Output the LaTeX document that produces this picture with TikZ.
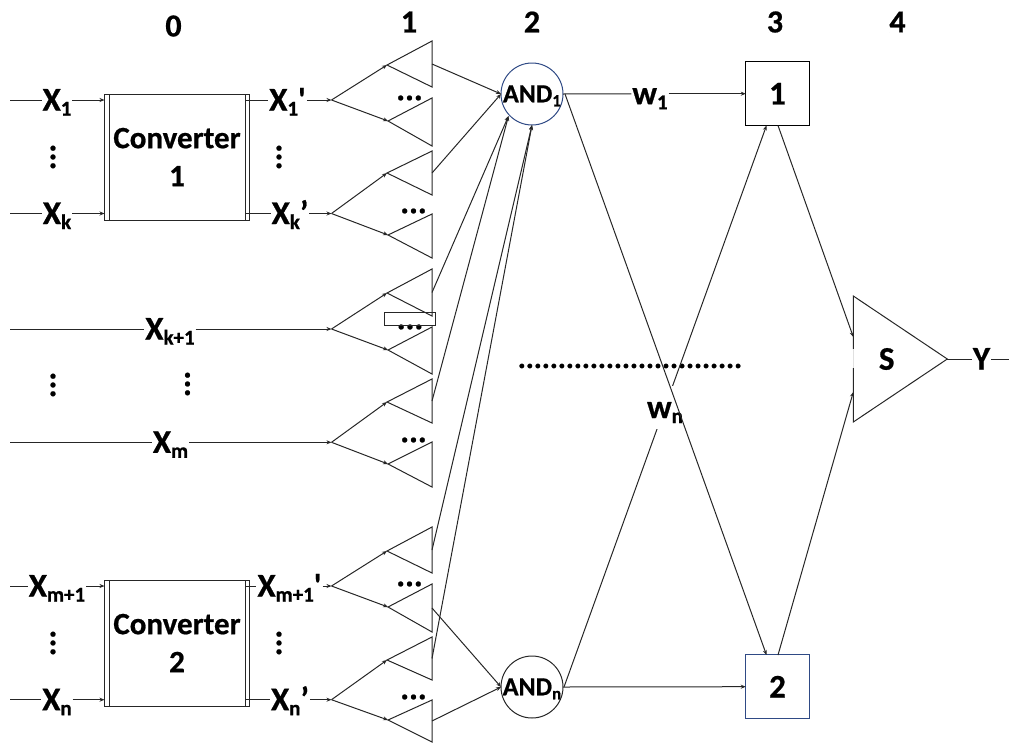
\documentclass[tikz,border=0pt]{standalone}
\usepackage{fontspec}
\usetikzlibrary{arrows.meta}
\newfontfamily\cb{Carlito}[BoldFeatures={FakeBold=0.7}]
\definecolor{ringblue}{HTML}{2F4A85}
\newcommand\subs[1]{\raisebox{-5pt}{\fontsize{21}{21}\selectfont #1}}
\newcommand\subsm[1]{\raisebox{-4pt}{\fontsize{17}{17}\selectfont #1}}
\tikzset{
  ln/.style={line width=1pt,black!85},
  arr/.style={ln,-{Stealth[length=5pt,width=4pt]}},
  txt/.style={font=\cb\bfseries\fontsize{31}{38}\selectfont,inner sep=0pt,outer sep=0pt,black},
  lab/.style={txt,font=\cb\bfseries\fontsize{33}{38}\selectfont,inner xsep=1pt,inner ysep=0pt,text height=21pt,text depth=0pt},
  head/.style={txt,font=\cb\bfseries\fontsize{32}{34}\selectfont},
  dotsv/.style={txt,font=\cb\bfseries\fontsize{33}{33}\selectfont,rotate=90},
  dotsh/.style={txt,font=\cb\bfseries\fontsize{33}{33}\selectfont},
  conv/.style={txt,draw,ln,text=black,minimum width=145pt,minimum height=126pt,align=center},
  gate/.style={circle,draw,line width=1pt,minimum size=62pt,inner sep=0pt,outer sep=0pt},
  gatetxt/.style={txt,font=\cb\bfseries\fontsize{26}{26}\selectfont,text height=16.5pt,text depth=0pt},
  outbox/.style={txt,font=\cb\bfseries\fontsize{33}{33}\selectfont,draw,line width=1pt,minimum width=63.5pt,minimum height=63.5pt}
}
\newcommand\fanunit[8]{%
  \coordinate (#1a) at (331.5,#2);
  \coordinate (#1ut) at (387,#3);
  \coordinate (#1uh) at (432,#4);
  \coordinate (#1ub) at (432,#5);
  \coordinate (#1um) at (432,{(#4+#5)/2});
  \coordinate (#1lt) at (388,#6);
  \coordinate (#1lh) at (432,#7);
  \coordinate (#1lb) at (432,#8);
  \coordinate (#1lm) at (432,{(#7+#8)/2});
  \draw[arr] (#1a) -- (#1ut);
  \draw[arr] (#1a) -- (#1lt);
  \draw[ln] (#1ut) -- (#1uh) -- (#1ub) -- cycle;
  \draw[ln] (#1lt) -- (#1lh) -- (#1lb) -- cycle;
}
\begin{document}
\begin{tikzpicture}[x=1pt,y=-1pt]
\useasboundingbox (0,0) rectangle (1009,742);
% column headers
\node[head] (h0) at (173.5,26) {0};
\node[head] (h1) at (409,22) {1};
\node[head] (h2) at (532,22) {2};
\node[head] (h3) at (775,22) {3};
\node[head] (h4) at (897.5,22) {4};
% converters
\node[conv] (conv1) at (177,157) {Converter\\1};
\node[conv] (conv2) at (177,643) {Converter\\2};
\foreach \c in {conv1,conv2}{
  \draw[ln] ([xshift=4.5pt]\c.north west) -- ([xshift=4.5pt]\c.south west);
  \draw[ln] ([xshift=-4.5pt]\c.north east) -- ([xshift=-4.5pt]\c.south east);
}
% fan-out units
\fanunit{f1}{100}{65}{41}{87}{121}{98}{146}
\fanunit{f2}{213.5}{173}{151}{195}{235}{214}{258}
\fanunit{f3}{329}{293}{269}{316}{350}{327}{374}
\fanunit{f4}{442.3}{402}{379}{423}{464}{442}{487}
\fanunit{f5}{586}{551}{527}{573}{607}{584}{632}
\fanunit{f6}{699.7}{660}{637}{680}{720}{700}{742}
% input free ends
\coordinate (i1) at (10,100);
\coordinate (i2) at (10,213.5);
\coordinate (i3) at (10,329);
\coordinate (i4) at (10,442.3);
\coordinate (i5) at (10,586);
\coordinate (i6) at (10,699.7);
% labels
\node[lab] (x1) at (57,100) {X\subs{1}};
\node[lab] (xk) at (57,213.5) {X\subs{k}};
\node[lab] (x1p) at (287.5,100) {X\subs{1}'};
\node[lab] (xkp) at (290,213.5) {X\subs{k}’};
\node[lab] (xk1) at (170,329) {X\subs{k+1}};
\node[lab] (xm) at (170.5,442.3) {X\subs{m}};
\node[lab] (xm1) at (57,586) {X\subs{m+1}};
\node[lab] (xn) at (57,699.7) {X\subs{n}};
\node[lab] (xm1p) at (289.5,586) {X\subs{m+1}'};
\node[lab] (xnp) at (290,699.7) {X\subs{n}’};
% input connectors
\draw[ln] (i1) -- (x1);
\draw[ln] (i2) -- (xk);
\draw[ln] (i3) -- (xk1);
\draw[ln] (i4) -- (xm);
\draw[ln] (i5) -- (xm1);
\draw[ln] (i6) -- (xn);
\draw[arr] (x1) -- (x1 -| conv1.west);
\draw[arr] (xk) -- (xk -| conv1.west);
\draw[arr] (xm1) -- (xm1 -| conv2.west);
\draw[arr] (xn) -- (xn -| conv2.west);
\draw[ln] ([xshift=-4.5pt]conv1.east |- x1p) -- (x1p);
\draw[ln] ([xshift=-4.5pt]conv1.east |- xkp) -- (xkp);
\draw[ln] ([xshift=-4.5pt]conv2.east |- xm1p) -- (xm1p);
\draw[ln] ([xshift=-4.5pt]conv2.east |- xnp) -- (xnp);
\draw[arr] (x1p) -- (f1a);
\draw[arr] (xkp) -- (f2a);
\draw[arr] (xk1) -- (f3a);
\draw[arr] (xm) -- (f4a);
\draw[arr] (xm1p) -- (f5a);
\draw[arr] (xnp) -- (f6a);
% vertical dots
\node[dotsv] (d1) at (53,157) {...};
\node[dotsv] (d2) at (279,157) {...};
\node[dotsv] (d3) at (53,385) {...};
\node[dotsv] (d4) at (187.5,384) {...};
\node[dotsv] (d5) at (53,643) {...};
\node[dotsv] (d6) at (279,643) {...};
% horizontal dots
\node[dotsh] (e1) at (409.5,98) {...};
\node[dotsh] (e2) at (413.5,211) {...};
\node[dotsh] (e3) at (410,327) {...};
\node[dotsh] (e4) at (413.5,440) {...};
\node[dotsh] (e5) at (409.5,584) {...};
\node[dotsh] (e6) at (413.5,697) {...};
% small rectangle
\node[draw,ln,minimum width=50.5pt,minimum height=13pt,inner sep=0pt,outer sep=0pt] (rect) at (410.2,319.2) {};
% AND gates
\node[gate,draw=ringblue] (and1) at (532,94) {};
\node[gate,draw=black!85] (andn) at (532,687) {};
\node[gatetxt] (and1t) at (532,94) {AND\subsm{1}};
\node[gatetxt] (andnt) at (532,687) {AND\subsm{n}};
\coordinate (a1sw) at (508.5,116);
% connectors into gates
\draw[arr] (f1um) -- (and1.west);
\draw[arr] (f2um) -- (and1.west);
\draw[arr] (f3um) -- (a1sw);
\draw[arr] (f4um) -- (a1sw);
\draw[arr] (f5um) -- (and1.south);
\draw[arr] (f6um) -- (and1.south);
\draw[arr] (f5lm) -- (andn.west);
\draw[arr] (f6lm) -- (andn.west);
% output boxes
\node[outbox] (b1) at (777.5,93.7) {1};
\node[outbox,draw=ringblue] (b2) at (777.5,686.7) {2};
% mid dots
\node[txt,font=\cb\bfseries\fontsize{30}{30}\selectfont] (row) at (630,366) {............................};
% crossing connectors
\coordinate (b1s) at (766.5,125.5);
\coordinate (b2n) at (766.5,655);
\coordinate (g1e) at (565,94);
\coordinate (gne) at (564,687);
\draw[arr] (gne) -- (b1s);
\node[txt,lab,fill=white,minimum height=43pt] (wn) at (665,407.5) {w\subs{n}};
\draw[arr] (g1e) -- (b2n);
\node[lab] (w1) at (650,93.7) {w\subs{1}};
\draw[ln] (and1.east) -- (w1);
\draw[arr] (w1) -- (b1.west);
\draw[arr] (andn.east) -- (b2.west);
% S
\coordinate (st) at (853.3,296);
\coordinate (sb) at (853.3,422);
\coordinate (stip) at (947.3,359);
\coordinate (sg1) at (853.3,349);
\coordinate (sg2) at (853.3,368);
\coordinate (sin1) at (853.3,337);
\coordinate (sin2) at (853.3,392);
\coordinate (b1o) at (778,125.5);
\coordinate (b2o) at (778,655);
\draw[ln] (sg1) -- (st) -- (stip) -- (sb) -- (sg2);
\draw[black!12,line width=1pt] (sg1) -- (sg2);
\draw[arr] (b1o) -- (sin1);
\draw[arr] (b2o) -- (sin2);
\node[txt,font=\cb\bfseries\fontsize{33}{33}\selectfont] (s) at (886.7,359) {S};
\node[lab] (y) at (981.5,359) {Y};
\coordinate (yout) at (1009,359);
\draw[ln] (stip) -- (y);
\draw[ln] (y) -- (yout);
\end{tikzpicture}
\end{document}
